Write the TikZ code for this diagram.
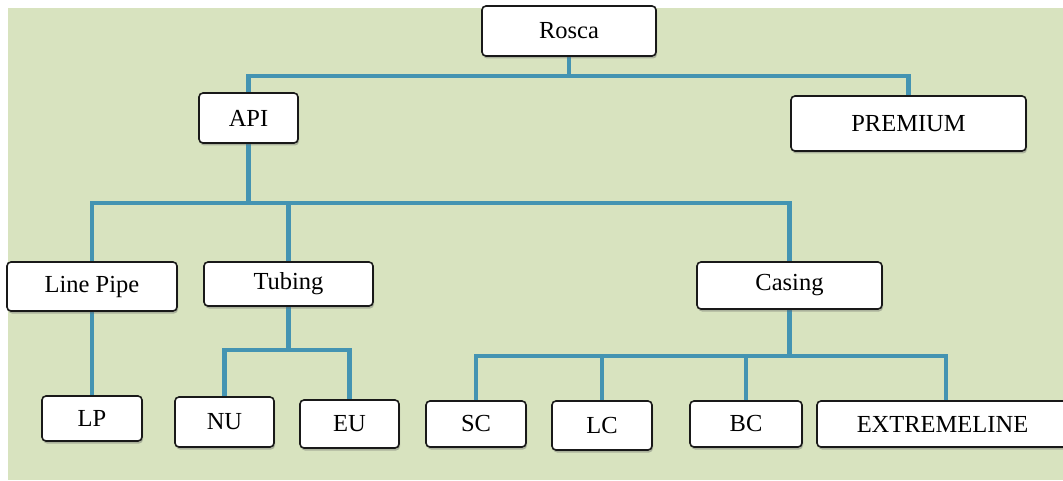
\documentclass[tikz,border=0pt]{standalone}
\usepackage{fontspec}
\setmainfont{Liberation Serif}
\usetikzlibrary{shadows}
\definecolor{panel}{HTML}{D8E3BF}
\definecolor{link}{HTML}{4494B2}
\pgfdeclarelayer{backdrop}
\pgfdeclarelayer{links}
\pgfsetlayers{backdrop,links,main}
\tikzset{
  box/.style={draw=black!90, line width=1.6pt, fill=white, rounded corners=4pt,
    inner sep=0pt, font=\fontsize{24.5}{28}\selectfont,
    drop shadow={shadow xshift=1pt, shadow yshift=-2.5pt, opacity=0.4, fill=black!60}},
  conn/.style={draw=link, line width=4.5pt}
}
\begin{document}
\begin{tikzpicture}[x=1pt, y=-1pt]
\useasboundingbox (0,0) rectangle (1063,481);
\begin{pgfonlayer}{backdrop}
  \fill[white] (0,0) rectangle (1063,481);
  \fill[panel] (8,8) rectangle (1063,480);
\end{pgfonlayer}

% top level
\node[box, minimum width=174pt, minimum height=50pt] (rosca) at (569,31) {Rosca};
\node[box, minimum width=99pt, minimum height=50pt] (api) at (248.5,118) {API};
\node[box, minimum width=235pt, minimum height=55pt] (premium) at (908.5,123.5) {PREMIUM};

% product families
\node[box, minimum width=170pt, minimum height=49pt] (linepipe) at (92,286.5) {Line Pipe};
\node[box, minimum width=169pt, minimum height=44pt] (tubing) at (288.5,284) {Tubing};
\node[box, minimum width=185pt, minimum height=47pt] (casing) at (789.5,285.5) {Casing};

% connection types
\node[box, minimum width=100pt, minimum height=45pt] (lp) at (92,418.5) {LP};
\node[box, minimum width=99pt, minimum height=50pt] (nu) at (224.5,422) {NU};
\node[box, minimum width=99pt, minimum height=48pt] (eu) at (349.5,424) {EU};
\node[box, minimum width=100pt, minimum height=46pt] (sc) at (476,424) {SC};
\node[box, minimum width=100pt, minimum height=49pt] (lc) at (602,425.5) {LC};
\node[box, minimum width=112pt, minimum height=46pt] (bc) at (746,424) {BC};
\node[box, minimum width=251pt, minimum height=46pt] (ext) at (942.5,424) {EXTREMELINE};

% branching points
\coordinate (j0) at (569,76);
\coordinate (j1) at (248.5,203);
\coordinate (j2) at (288.5,350);
\coordinate (j3) at (789.5,356);

\begin{pgfonlayer}{links}
  \draw[conn] (rosca.south) -- (j0);
  \draw[conn] (api.north) |- (j0) -| (premium.north);

  \draw[conn] (api.south) -- (j1);
  \draw[conn] (linepipe.north) |- (j1) -| (casing.north);
  \draw[conn] (tubing.north) -- (tubing.north |- j1);

  \draw[conn] (linepipe.south) -- (lp.north);

  \draw[conn] (tubing.south) -- (j2);
  \draw[conn] (nu.north) |- (j2) -| (eu.north);

  \draw[conn] (casing.south) -- (j3);
  \draw[conn] (sc.north) |- (j3) -| ([xshift=3.5pt]ext.north);
  \draw[conn] (lc.north) -- (lc.north |- j3);
  \draw[conn] (bc.north) -- (bc.north |- j3);
\end{pgfonlayer}
\end{tikzpicture}
\end{document}
